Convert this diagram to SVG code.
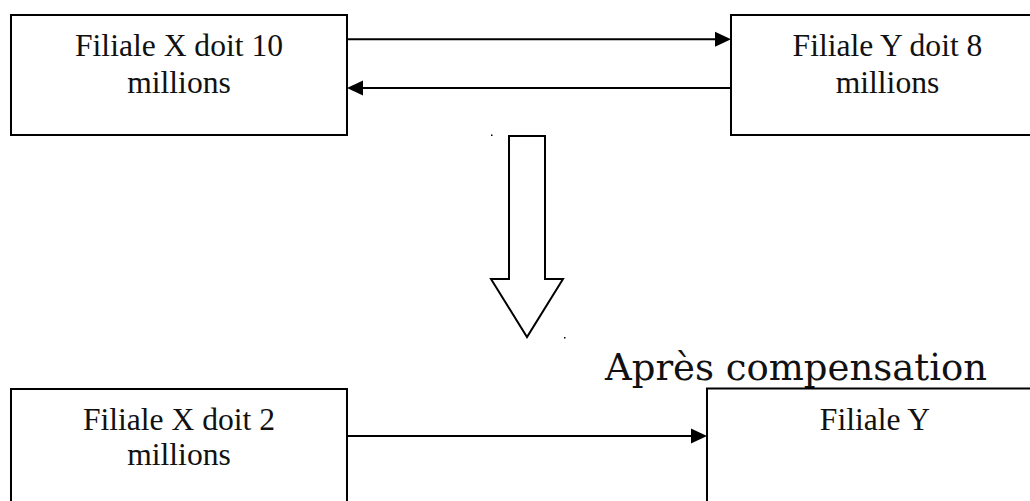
<svg xmlns="http://www.w3.org/2000/svg" width="1030" height="501" viewBox="0 0 1030 501">
  <style>
    .box { fill: #ffffff; stroke: #000000; stroke-width: 2; }
    .lbl { font-family: "Liberation Serif", "Times New Roman", serif; font-size: 31.6px; fill: #111111; text-anchor: middle; }
    .title { font-family: "DejaVu Serif", serif; font-size: 37px; fill: #111111; }
    .link { fill: none; stroke: #000000; stroke-width: 2; }
    .head { fill: #000000; stroke: none; }
    .hollow { fill: #ffffff; stroke: #000000; stroke-width: 2; stroke-linejoin: miter; }
  </style>
  <rect width="1030" height="501" fill="#ffffff"/>

  <!-- before netting -->
  <g id="x-before">
    <rect class="box" x="11" y="15" width="336" height="120"/>
    <text class="lbl" x="179" y="56">Filiale X doit 10</text>
    <text class="lbl" x="179" y="92.5">millions</text>
  </g>
  <g id="y-before">
    <rect class="box" x="731" y="15" width="320" height="120"/>
    <text class="lbl" x="887.5" y="56">Filiale Y doit 8</text>
    <text class="lbl" x="887.5" y="92.5">millions</text>
  </g>

  <!-- transition arrow -->
  <g id="transition">
    <polygon class="hollow" points="509,136 545,136 545,279 563,279 527,337 491,279 509,279"/>
    <rect x="491" y="134.5" width="1.5" height="1.5" fill="#000000"/>
    <rect x="564" y="337" width="1.5" height="1.5" fill="#000000"/>
  </g>

  <text id="caption" class="title" x="605" y="380">Après compensation</text>

  <!-- after netting -->
  <g id="x-after">
    <rect class="box" x="11" y="389" width="336" height="130"/>
    <text class="lbl" x="179" y="429.5">Filiale X doit 2</text>
    <text class="lbl" x="179" y="465">millions</text>
  </g>
  <g id="y-after">
    <rect class="box" x="707" y="388.5" width="336" height="130"/>
    <text class="lbl" x="875" y="429.5">Filiale Y</text>
  </g>

  <g id="connectors">
    <line class="link" x1="347" y1="39.3" x2="716" y2="39.3"/>
    <polygon class="head" points="731,39.3 715,31.8 715,46.8"/>
    <line class="link" x1="731" y1="88" x2="362" y2="88"/>
    <polygon class="head" points="347,88 363,80.5 363,95.5"/>
    <line class="link" x1="347" y1="436" x2="692" y2="436"/>
    <polygon class="head" points="707,436 691,428.5 691,443.5"/>
  </g>
</svg>
